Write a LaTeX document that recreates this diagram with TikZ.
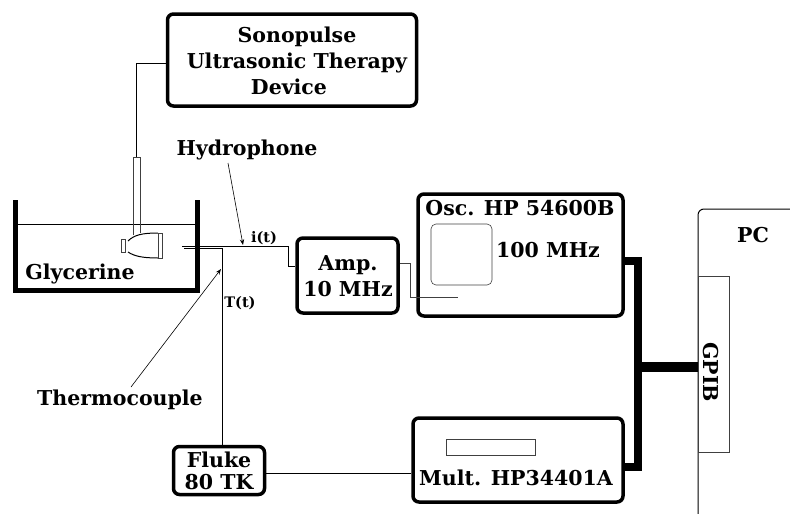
\documentclass[tikz,border=0pt]{standalone}
\usepackage{fontspec}
\setmainfont{DejaVu Serif}
\usetikzlibrary{arrows.meta, positioning}
\tikzset{
  devbox/.style={rectangle, draw, line width=3.5pt, rounded corners=6pt, inner sep=0pt},
  lbl/.style={inner sep=0pt, align=center, font=\fontsize{20.5}{26}\selectfont\bfseries},
  smalllbl/.style={inner sep=0pt, font=\fontsize{14.5}{16}\selectfont\bfseries},
  wire/.style={draw, line width=0.7pt},
  bus/.style={draw, line width=8pt},
  thin box/.style={draw, line width=0.6pt, black!75, inner sep=0pt},
  arrow/.style={->, >=Stealth, line width=0.6pt},
}
\begin{document}
\begin{tikzpicture}[x=1pt, y=-1pt]
  \useasboundingbox (0,0) rectangle (790,514);

  % Instruments
  \node[devbox, minimum width=249pt, minimum height=92pt] (sono) at (292,60) {};
  \node[devbox, minimum width=101pt, minimum height=75pt] (amp) at (347.5,275.5) {};
  \node[devbox, minimum width=205pt, minimum height=122pt] (osc) at (520.5,255) {};
  \node[devbox, minimum width=210pt, minimum height=84pt] (mult) at (518,460) {};
  \node[devbox, minimum width=91pt, minimum height=48pt] (fluke) at (219,470.5) {};

  \node[lbl] (sonotxt) at (297,61) {Sonopulse\\Ultrasonic Therapy\\Device\hspace*{16pt}};
  \node[lbl] (amptxt) at (348,276) {Amp.\\10 MHz};
  \node[lbl] (osctxt) at (520,208) {Osc. HP 54600B};
  \node[lbl] (osctxt2) at (548,250) {100 MHz};
  \node[lbl] (multtxt) at (516,478) {Mult. HP34401A};
  \node[lbl, font=\fontsize{20.5}{22}\selectfont\bfseries] (fluketxt) at (219,471) {Fluke\\80 TK};

  % Screen and display
  \node[thin box, rounded corners=5pt, minimum width=61pt, minimum height=61pt] (screen) at (461.5,254.5) {};
  \node[thin box, minimum width=89pt, minimum height=16pt] (display) at (490.5,447) {};

  % Tank
  \draw[line width=5pt] (15,200) -- (15,290.5) -- (197,290.5) -- (197,200);
  \coordinate (wl) at (17,224);
  \coordinate (wr) at (195,224);
  \draw[wire] (wl) -- (wr);
  \node[lbl] (gly) at (80,274) {Glycerine};

  % Transducer
  \draw[wire, black!75] (133.5,235) -- (133.5,157) -- (140,157) -- (140,233);
  \draw[line width=1pt] (128,241) .. controls (134,235) and (142,233) .. (158,233);
  \draw[line width=1pt] (128,252) .. controls (134,256) and (142,258) .. (158,258);
  \node[thin box, minimum width=4pt, minimum height=13pt] (tip) at (123,245.5) {};
  \node[thin box, minimum width=4pt, minimum height=25pt] (face) at (160,245.5) {};

  % Wires
  \coordinate (tubetop) at (136.5,157);
  \draw[wire, line width=1pt] (sono.west |- 0,63) -| (tubetop);
  \coordinate (hyd) at (182,246);
  \draw[wire] (hyd) -- (288,246) |- (amp.west |- 0,266);
  \coordinate (oscin) at (458,297);
  \draw[wire, black!75] (amp.east |- 0,263) -- (410,263) |- (oscin);
  \coordinate (therm) at (184,248);
  \draw[wire] (therm) -- (222,248) -- (222,446);
  \draw[wire] (fluke.east |- 0,473) -- (mult.west |- 0,473);

  % PC
  \coordinate (pcb) at (698,514);
  \coordinate (pcr) at (790,209);
  \draw[line width=1pt, rounded corners=6pt] (pcb) |- (pcr);
  \node[thin box, minimum width=31pt, minimum height=176pt] (gpib) at (713.5,364) {};
  \node[lbl, rotate=-90] (gpibtxt) at (711,372) {GPIB};
  \node[lbl] (pctxt) at (753,235) {PC};

  % GPIB bus
  \draw[bus] (osc.east |- 0,261) -- (638,261) -- (638,467) -- (mult.east |- 0,467);
  \coordinate (bj) at (638,367);
  \draw[line width=10pt] (bj) -- (gpib.west |- bj);

  % Labels and arrows
  \node[lbl] (hydtxt) at (247,150) {Hydrophone};
  \node[lbl] (thermtxt) at (120,400) {Thermocouple};
  \node[smalllbl] (itxt) at (264,238) {i(t)};
  \node[smalllbl] (ttxt) at (240,303) {T(t)};
  \coordinate (hydstart) at (228,163);
  \coordinate (hydtip) at (243,245);
  \coordinate (thermstart) at (131,387);
  \coordinate (thermtip) at (221,269);
  \draw[arrow] (hydstart) -- (hydtip);
  \draw[arrow] (thermstart) -- (thermtip);
\end{tikzpicture}
\end{document}
